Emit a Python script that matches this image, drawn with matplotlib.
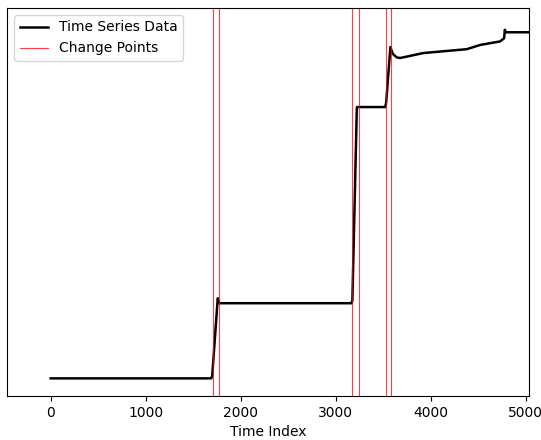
import matplotlib
matplotlib.use("Agg")
import matplotlib.pyplot as plt

# Time series (arbitrary y units 0-100)
time_index = [0, 1690, 1700, 1758, 1775, 3165, 3175, 3222, 3520, 3530, 3575,
              3600, 3640, 3677, 3800, 3919, 4168, 4379, 4519, 4729, 4772,
              4780, 4786, 4795, 5024]
values = [0.0, 0.0, 0.8, 22.7, 21.3, 21.3, 22.0, 76.9, 76.9, 78.0, 93.9,
          92.0, 91.0, 90.8, 91.5, 92.2, 92.8, 93.3, 94.5, 95.5, 96.4,
          98.8, 98.2, 98.1, 98.1]

change_points = [1705, 1772, 3171, 3242, 3532, 3584]

fig = plt.figure(figsize=(5.41, 4.40), dpi=100)
ax = fig.add_axes([0.0135, 0.1, 0.978 - 0.0135, 0.982 - 0.1])

ax.plot(time_index, values, color="black", linewidth=1.8, label="Time Series Data")
for i, cp in enumerate(change_points):
    ax.axvline(cp, color="red", linewidth=0.8, alpha=0.75,
               label="Change Points" if i == 0 else None)

ax.set_xlim(-457, 5035)
ax.set_ylim(-5.0, 105.0)
ax.set_yticks([])
ax.set_xticks([0, 1000, 2000, 3000, 4000, 5000])
ax.set_xlabel("Time Index")
ax.legend(loc="upper left")

fig.savefig("out.png", dpi=100)
